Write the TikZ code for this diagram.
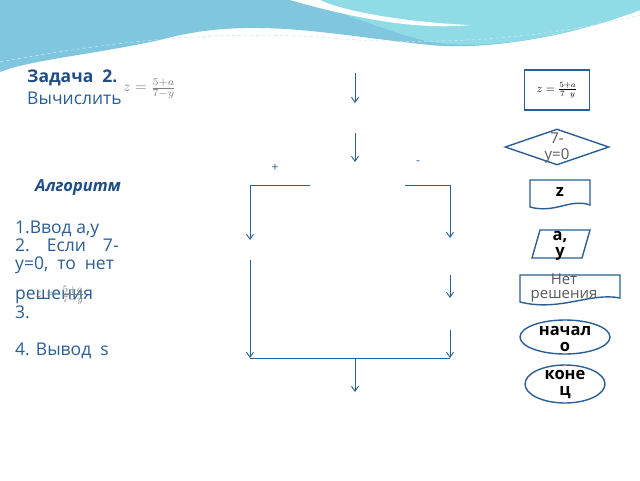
\documentclass[tikz,border=0pt]{standalone}
\usepackage{fontspec}
\setmainfont{Open Sans}
\usetikzlibrary{shapes.geometric,arrows.meta}
\definecolor{lb}{HTML}{2B5E95}
\definecolor{tb}{HTML}{1F4E85}
\definecolor{sky}{HTML}{7FC6DE}
\definecolor{cy}{HTML}{8FDCE6}
\tikzset{ln/.style={draw=lb,line width=0.9pt},
 arr/.style={ln,-{Straight Barb[length=5pt,width=7pt]}},
 shp/.style={draw=lb,line width=1.4pt,fill=white},
 lbl/.style={text=lb,font=\fontsize{17.5}{18}\selectfont,anchor=base west,inner sep=0},
 btxt/.style={font=\bfseries\fontsize{16.5}{16}\selectfont,align=center}}
\begin{document}
\begin{tikzpicture}[x=1pt,y=-1pt]
\useasboundingbox (0,0) rectangle (640,480);
\fill[white] (0,0) rectangle (640,480);
% header
\fill[sky] (0,0) -- (640,0) -- (640,10) .. controls (560,40) and (480,50) .. (430,45) .. controls (330,35) and (250,15) .. (160,40) .. controls (90,55) and (30,60) .. (0,72) -- cycle;
\fill[cy] (300,0) -- (640,0) -- (640,10) .. controls (560,40) and (480,50) .. (430,42) .. controls (380,30) and (340,10) .. (300,0) -- cycle;
\fill[white] (290,0) .. controls (360,20) and (420,30) .. (470,25) .. controls (400,22) and (340,10) .. (320,0) -- cycle;
\draw[white!60!sky,dashed,line width=0.6pt] (0,62) .. controls (120,40) and (220,30) .. (330,38) .. controls (450,48) and (560,35) .. (640,15);
% left texts
\node[text=tb,font=\bfseries\fontsize{17.5}{18}\selectfont,anchor=base west,inner sep=0] (t1) at (27,82) {Задача \ 2.};
\node[lbl] (t2) at (27,104) {Вычислить};
\node[text=gray,anchor=west,inner sep=0] (f1) at (123,89) {\scalebox{1.5}{$z=\frac{5+a}{7-y}$}};
\node[text=tb,font=\bfseries\itshape\fontsize{16.5}{18}\selectfont,anchor=base west,inner sep=0] (alg) at (35,191) {Алгоритм};
\node[lbl] (l1) at (15,233) {1.Ввод а,у};
\node[lbl] (l2) at (15,251) {2.\hspace{17pt}Если\hspace{17pt}7-};
\node[lbl] (l3) at (15,269) {у=0,\hspace{9pt}то\hspace{9pt}нет};
\node[lbl] (l4) at (15,299) {решения};
\node[lbl] (l5) at (15,318) {3.};
\node[lbl] (l6) at (15,355) {4. Вывод\ \ s};
\node[text=gray,anchor=west,inner sep=0] (f2) at (35,295) {\scalebox{1.4}{$z=\frac{5+a}{7-y}$}};
% connectors
\coordinate (a1) at (355,73); \coordinate (a2) at (355,103);
\coordinate (b1) at (355,133); \coordinate (b2) at (355,162);
\draw[arr] (a1) -- (a2);
\draw[arr] (b1) -- (b2);
\coordinate (hl1) at (310,185); \coordinate (hl2) at (250,185);
\coordinate (hr1) at (405,185); \coordinate (hr2) at (450,185);
\coordinate (lv1) at (250,240); \coordinate (lv2) at (250,260); \coordinate (lv3) at (250,358);
\coordinate (r1) at (450,238); \coordinate (r2) at (450,275); \coordinate (r3) at (450,298);
\coordinate (r4) at (450,330); \coordinate (r5) at (450,358);
\coordinate (m) at (355,358); \coordinate (m2) at (355,392);
\draw[ln] (hl1) -- (hl2);
\draw[arr] (hl2) -- (lv1);
\draw[arr] (lv2) -- (lv3);
\draw[ln] (hr1) -- (hr2);
\draw[arr] (hr2) -- (r1);
\draw[arr] (r2) -- (r3);
\draw[arr] (r4) -- (r5);
\draw[ln] (lv3) -- (r5);
\draw[arr] (m) -- (m2);
\node[text=lb,font=\large] (plus) at (275,168) {+};
\node[text=lb,font=\large] (minus) at (418,163) {-};
% right shapes
\node[shp,minimum width=65pt,minimum height=40pt] (r) at (557,90) {\scalebox{1.15}{$z=\frac{5+a}{7\;\;y}$}};
\node[diamond,shp,minimum width=104pt,minimum height=36pt,aspect=2.9,inner sep=0] (d) at (557,147) {};
\node[text=gray!70!black,align=center,font=\fontsize{15}{16}\selectfont] (dt) at (557,148) {7-\\у=0};
\draw[shp] (530,180) -- (590,180) -- (590,205) .. controls (570,198) and (555,214) .. (530,207) -- cycle;
\node[btxt] (zt) at (560,192) {z};
\draw[shp] (540,230) -- (590,230) -- (582,258) -- (532,258) -- cycle;
\node[btxt] (ay) at (560,246) {а,\\у};
\draw[shp] (520,275) -- (620,275) -- (620,298) .. controls (590,292) and (560,312) .. (520,302) -- cycle;
\node[text=gray!70!black,align=center,font=\fontsize{15}{14}\selectfont] (nr) at (564,288) {Нет\\решения};
\node[ellipse,shp,minimum width=90pt,minimum height=34pt] (st) at (565,337) {};
\node[btxt] (stt) at (565,339) {начал\\о};
\node[ellipse,shp,minimum width=80pt,minimum height=38pt] (en) at (565,384) {};
\node[btxt] (ent) at (565,385) {коне\\ц};
\end{tikzpicture}
\end{document}
